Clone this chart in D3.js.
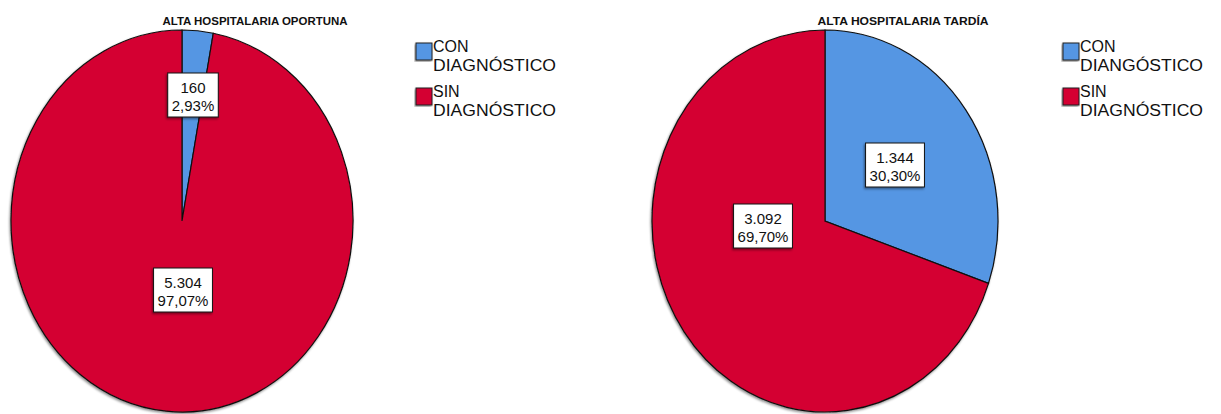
<!DOCTYPE html>
<html>
<head>
<meta charset="utf-8">
<script src="https://cdn.jsdelivr.net/npm/d3@7"></script>
<style>
  html, body { margin: 0; padding: 0; background: #fff; }
  svg { display: block; font-family: "Liberation Sans", Arial, sans-serif; }
</style>
</head>
<body>
<svg id="chart" width="1221" height="414"></svg>
<script>
// ---- data ----
const chartTitles = ["ALTA HOSPITALARIA OPORTUNA", "ALTA HOSPITALARIA TARDÍA"];
const categoriesLeft = ["CON DIAGNÓSTICO", "SIN DIAGNÓSTICO"];
const categoriesRight = ["CON DIANGÓSTICO", "SIN DIAGNÓSTICO"];
const valuesLeft = [160, 5304];
const valuesRight = [1344, 3092];
const countLabelsLeft = ["160", "5.304"];
const countLabelsRight = ["1.344", "3.092"];
const pctLabelsLeft = ["2,93%", "97,07%"];
const pctLabelsRight = ["30,30%", "69,70%"];

// ---- layout (not data) ----
const colors = ["#5596e3", "#d40030"];
const layout = [
  { cx: 182, cy: 221, rx: 171, ry: 191, titleX: 255, legendX: 416,
    labelOffsets: [[11, -126], [1, 69]], titleW: 185 },
  { cx: 825, cy: 221, rx: 173, ry: 191, titleX: 903, legendX: 1063,
    labelOffsets: [[70, -56], [-62, 5]], titleW: 171 }
];

const charts = [
  { title: chartTitles[0], cats: categoriesLeft, vals: valuesLeft, counts: countLabelsLeft, pcts: pctLabelsLeft },
  { title: chartTitles[1], cats: categoriesRight, vals: valuesRight, counts: countLabelsRight, pcts: pctLabelsRight }
];

const svg = d3.select("#chart");
const defs = svg.append("defs");
const f = defs.append("filter").attr("id", "shadow").attr("x", "-10%").attr("y", "-10%").attr("width", "120%").attr("height", "120%");
f.append("feDropShadow").attr("dx", -1).attr("dy", 1.5).attr("stdDeviation", 1).attr("flood-color", "#000").attr("flood-opacity", 0.45);

const pie = d3.pie().sort(null).value(d => d);

charts.forEach((c, i) => {
  const L = layout[i];
  const g = svg.append("g");

  // title
  g.append("text")
    .attr("x", L.titleX).attr("y", 25)
    .attr("text-anchor", "middle")
    .attr("font-size", 11).attr("font-weight", "bold")
    .attr("textLength", L.titleW).attr("lengthAdjust", "spacingAndGlyphs")
    .attr("fill", "#111")
    .text(c.title);

  // pie drawn as circle and scaled to ellipse
  const arcs = pie(c.vals);
  const arc = d3.arc().innerRadius(0).outerRadius(L.ry);
  const pg = g.append("g")
    .attr("transform", `translate(${L.cx},${L.cy}) scale(${L.rx / L.ry},1)`)
    .attr("filter", "url(#shadow)");
  pg.selectAll("path").data(arcs).join("path")
    .attr("d", arc)
    .attr("fill", (d, j) => colors[j])
    .attr("stroke", "#111")
    .attr("stroke-width", 1.2)
    .attr("vector-effect", "non-scaling-stroke");

  // value labels
  arcs.forEach((d, j) => {
    const [ox, oy] = L.labelOffsets[j];
    const x = L.cx + ox, y = L.cy + oy;
    const lg = g.append("g").attr("transform", `translate(${x},${y})`);
    const t1 = c.counts[j], t2 = c.pcts[j];
    const tmp = lg.append("text").attr("font-size", 15).text(t2);
    const w = tmp.node().getComputedTextLength();
    tmp.remove();
    const bw = w + 8, bh = 44;
    lg.append("rect")
      .attr("x", -bw / 2).attr("y", -bh / 2)
      .attr("width", bw).attr("height", bh)
      .attr("fill", "#fff").attr("stroke", "#111").attr("stroke-width", 1)
      .attr("filter", "url(#shadow)");
    lg.append("text").attr("text-anchor", "middle").attr("y", -2)
      .attr("font-size", 15).attr("fill", "#111").text(t1);
    lg.append("text").attr("text-anchor", "middle").attr("y", 16)
      .attr("font-size", 15).attr("fill", "#111").text(t2);
  });

  // legend
  c.cats.forEach((name, j) => {
    const y0 = 43 + j * 45;
    const parts = name.split(" ");
    g.append("rect")
      .attr("x", L.legendX).attr("y", y0)
      .attr("width", 16).attr("height", 17)
      .attr("fill", colors[j]).attr("stroke", "#222").attr("stroke-width", 1)
      .attr("filter", "url(#shadow)");
    g.append("text")
      .attr("x", L.legendX + 17).attr("y", y0 + 9)
      .attr("font-size", 16).attr("fill", "#111")
      .text(parts[0]);
    g.append("text")
      .attr("x", L.legendX + 17).attr("y", y0 + 28)
      .attr("font-size", 16).attr("fill", "#111")
      .attr("textLength", 123).attr("lengthAdjust", "spacingAndGlyphs")
      .text(parts.slice(1).join(" "));
  });
});
</script>
</body>
</html>
